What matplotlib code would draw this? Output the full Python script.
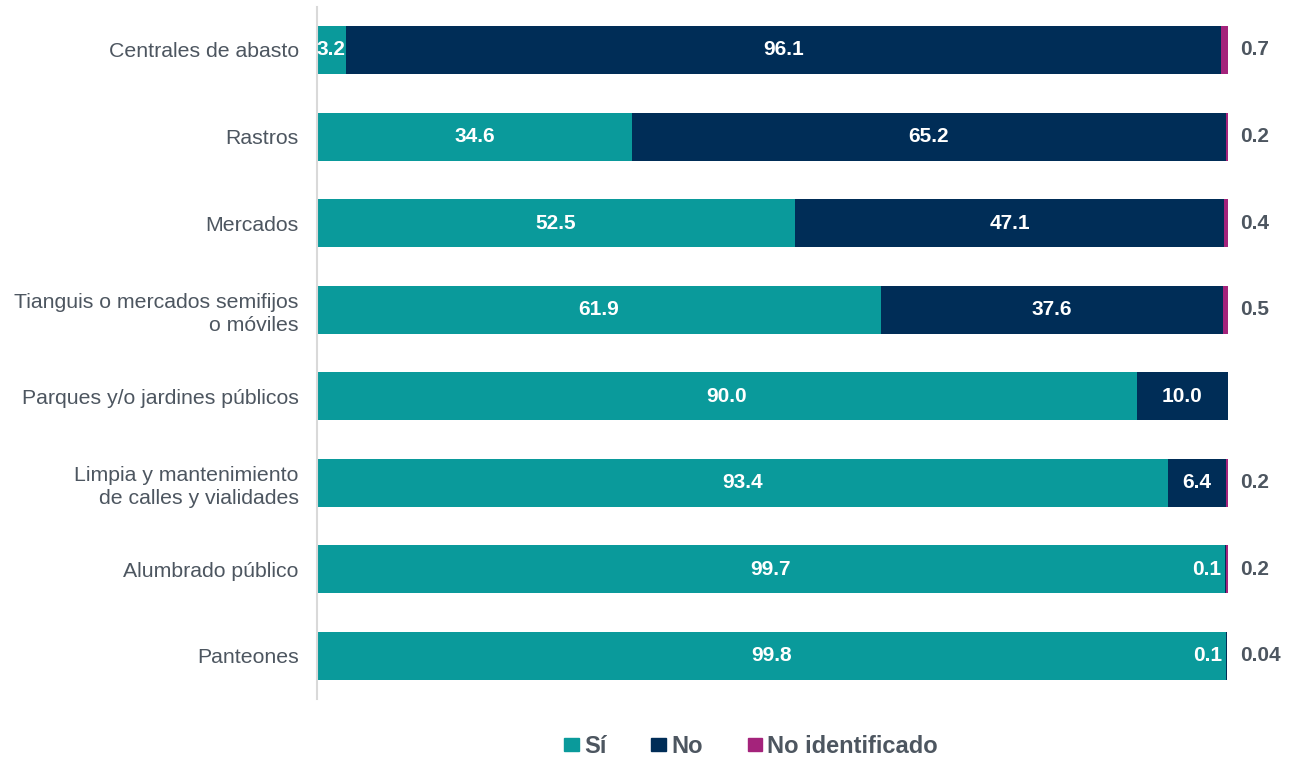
import numpy as np
import matplotlib.pyplot as plt
from matplotlib.patches import Patch

plt.rcParams['font.family'] = ['Liberation Sans', 'DejaVu Sans']

categorias = ["Centrales de abasto", "Rastros", "Mercados",
              "Tianguis o mercados semifijos\no móviles",
              "Parques y/o jardines públicos",
              "Limpia y mantenimiento\nde calles y vialidades",
              "Alumbrado público", "Panteones"]
si = [3.2, 34.6, 52.5, 61.9, 90.0, 93.4, 99.7, 99.8]
no = [96.1, 65.2, 47.1, 37.6, 10.0, 6.4, 0.1, 0.1]
no_ident = [0.7, 0.2, 0.4, 0.5, 0.0, 0.2, 0.2, 0.04]
etiquetas_ni = ["0.7", "0.2", "0.4", "0.5", "", "0.2", "0.2", "0.04"]

c_si = "#0A9A9B"
c_no = "#002D57"
c_ni = "#A4237B"
gris = "#4D5660"

fig = plt.figure(figsize=(12.93, 7.6), dpi=100)
ax = fig.add_axes([0.245, 0.08, 0.7046, 0.9112])

y = np.arange(len(categorias))
h = 0.555
si = np.array(si)
no = np.array(no)
ni = np.array(no_ident)

ax.barh(y, si, height=h, color=c_si)
ax.barh(y, no, left=si, height=h, color=c_no)
ax.barh(y, ni, left=si + no, height=h, color=c_ni)

fs = 15
for i in range(len(y)):
    ax.text(si[i] / 2, y[i], f"{si[i]:.1f}", ha="center", va="center",
            color="white", fontsize=fs, fontweight="bold")
    if no[i] >= 1:
        ax.text(si[i] + no[i] / 2, y[i], f"{no[i]:.1f}", ha="center",
                va="center", color="white", fontsize=fs, fontweight="bold")
    else:
        # etiqueta dentro del tramo verde cuando el valor es muy chico
        ax.text(si[i] + no[i] - 0.5, y[i], f"{no[i]:.1f}", ha="right",
                va="center", color="white", fontsize=fs, fontweight="bold")
    if etiquetas_ni[i]:
        ax.text(101.3, y[i], etiquetas_ni[i], ha="left", va="center",
                color=gris, fontsize=fs, fontweight="bold")

ax.set_xlim(0, 100)
ax.set_ylim(len(y) - 0.5, -0.5)
ax.set_yticks(y)
ax.set_yticklabels(categorias, fontsize=15.3, color=gris, linespacing=1.3)
ax.tick_params(axis="y", length=0, pad=13)
ax.set_xticks([])
for s in ["top", "right", "bottom"]:
    ax.spines[s].set_visible(False)
ax.spines["left"].set_color("#D9D9D9")
ax.spines["left"].set_linewidth(1.5)

handles = [Patch(color=c_si, label="Sí"), Patch(color=c_no, label="No"),
           Patch(color=c_ni, label="No identificado")]
leg = fig.legend(handles=handles, loc="center", bbox_to_anchor=(0.581, 0.018),
                 ncol=3, frameon=False, handlelength=0.62, handleheight=0.45,
                 handletextpad=0.22, columnspacing=1.9,
                 prop={"size": 17, "weight": "bold"})
for t in leg.get_texts():
    t.set_color(gris)

fig.savefig("out.png", dpi=100)
